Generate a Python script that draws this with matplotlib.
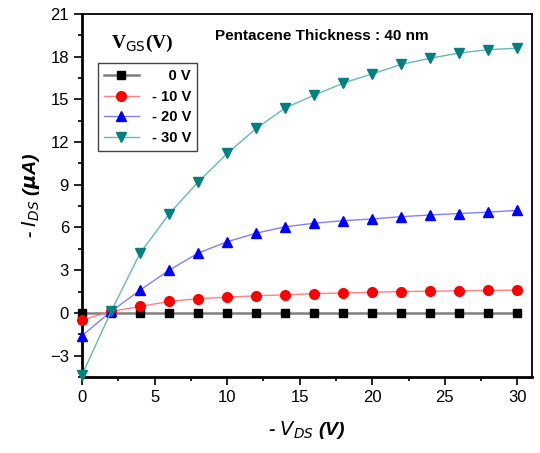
import matplotlib
matplotlib.use('Agg')
import matplotlib.pyplot as plt
from matplotlib.ticker import MultipleLocator

plt.rcParams['font.family'] = ['Liberation Sans', 'DejaVu Sans']

# Data
vds = [0, 2, 4, 6, 8, 10, 12, 14, 16, 18, 20, 22, 24, 26, 28, 30]
ids_0v = [0, 0, 0, 0, 0, 0, 0, 0, 0, 0, 0, 0, 0, 0, 0, 0]
ids_10v = [-0.5, 0.1, 0.45, 0.8, 1.0, 1.1, 1.2, 1.27, 1.35, 1.4, 1.45, 1.5, 1.52, 1.55, 1.58, 1.6]
ids_20v = [-1.6, 0.1, 1.6, 3.0, 4.2, 5.0, 5.6, 6.05, 6.3, 6.48, 6.6, 6.76, 6.88, 6.98, 7.08, 7.2]
ids_30v = [-4.35, 0.1, 4.2, 6.95, 9.2, 11.2, 12.96, 14.4, 15.3, 16.15, 16.8, 17.46, 17.9, 18.26, 18.5, 18.6]
labels = ['    0 V', '- 10 V', '- 20 V', '- 30 V']

series = [
    (ids_0v, 's', 'black', '#808080'),
    (ids_10v, 'o', 'red', '#ff8080'),
    (ids_20v, '^', 'blue', '#8080ff'),
    (ids_30v, 'v', '#008080', '#66b8b8'),
]

fig = plt.figure(figsize=(5.4, 4.53), dpi=100)
ax = fig.add_axes([0.152, 0.168, 0.833, 0.801])

for (vals, m, mc, lc), lab in zip(series, labels):
    ax.plot(vds, vals, color=lc, lw=1.0 if m != 's' else 1.8, marker=m,
            markersize=7 if m != 's' else 6, markerfacecolor=mc,
            markeredgecolor=mc, label=lab, clip_on=False, zorder=3)

ax.set_xlim(0, 31)
ax.set_ylim(-4.5, 21)
ax.xaxis.set_major_locator(MultipleLocator(5))
ax.xaxis.set_minor_locator(MultipleLocator(2.5))
ax.yaxis.set_major_locator(MultipleLocator(3))
ax.yaxis.set_minor_locator(MultipleLocator(1.5))
ax.tick_params(which='both', direction='out', top=False, right=False,
               labelsize=12, width=1.2)
ax.tick_params(which='major', length=6)
ax.tick_params(which='minor', length=3)
for s in ax.spines.values():
    s.set_linewidth(1.3)
ax.spines['left'].set_linewidth(2)
ax.spines['bottom'].set_linewidth(2)

ax.set_xlabel(r'- $\boldsymbol{V_{DS}}$ (V)', fontsize=14, fontweight='bold',
              fontstyle='italic', labelpad=10)
ax.set_ylabel(r'- $\boldsymbol{I_{DS}}$ ($\boldsymbol{\mu}$A)', fontsize=14,
              fontweight='bold', fontstyle='italic', labelpad=6)

leg = ax.legend(loc='upper left', bbox_to_anchor=(0.019, 0.884), fancybox=False,
                edgecolor='#444444', framealpha=1, handlelength=2.4,
                prop={'weight': 'bold', 'size': 10.5}, borderpad=0.4,
                labelspacing=0.45, handletextpad=0.9)
leg.get_frame().set_linewidth(1.0)

fig.text(0.205, 0.895, r'V$_{\mathrm{GS}}$(V)', fontsize=14, fontweight='bold',
         family='Liberation Serif')
fig.text(0.398, 0.912, 'Pentacene Thickness : 40 nm', fontsize=11, fontweight='bold')

fig.savefig('out.png', dpi=100)
